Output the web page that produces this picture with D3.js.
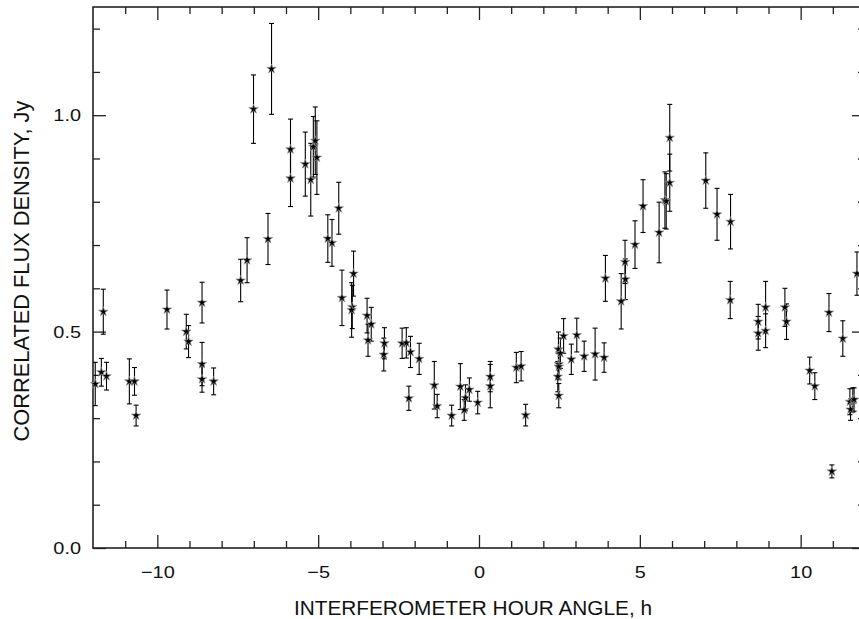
<!DOCTYPE html>
<html>
<head>
<meta charset="utf-8">
<script src="https://cdn.jsdelivr.net/npm/d3@7"></script>
<style>
  html, body { margin: 0; padding: 0; background: #fff; }
  svg { display: block; }
  text { font-family: "Liberation Sans", Arial, sans-serif; fill: #111; }
</style>
</head>
<body>
<svg id="chart" width="859" height="619"></svg>
<script>
// Hour angle (h)
const hourAngle = [
  -11.93, -11.74, -11.68, -11.58, -10.87, -10.71, -10.66, -9.70, -9.10, -9.03,
  -8.61, -8.61, -8.61, -8.25, -7.41, -7.21, -7.01, -6.56, -6.45, -5.86,
  -5.86, -5.40, -5.23, -5.15, -5.09, -5.04, -4.70, -4.57, -4.36, -4.26,
  -3.90, -3.94, -3.96, -3.48, -3.35, -3.45, -2.94, -2.96, -2.39, -2.26,
  -2.13, -2.18, -1.86, -1.39, -1.30, -0.85, -0.58, -0.46, -0.42, -0.30,
  -0.04, 0.35, 0.35, 1.16, 1.31, 1.45, 2.47, 2.53, 2.63, 2.48,
  2.48, 2.45, 2.48, 2.87, 3.04, 3.27, 3.61, 3.89, 3.93, 4.42,
  4.54, 4.55, 4.85, 5.10, 5.60, 5.78, 5.82, 5.93, 5.93, 7.05,
  7.40, 7.82, 7.81, 8.68, 8.68, 8.91, 8.91, 9.51, 9.56, 10.28,
  10.44, 10.88, 10.97, 11.31, 11.53, 11.55, 11.62, 11.66, 11.75
];
// Correlated flux density (Jy)
const fluxDensity = [
  0.379, 0.406, 0.546, 0.397, 0.385, 0.385, 0.306, 0.551, 0.500, 0.477,
  0.567, 0.425, 0.390, 0.385, 0.618, 0.665, 1.014, 0.714, 1.107, 0.921,
  0.854, 0.887, 0.851, 0.927, 0.941, 0.902, 0.715, 0.705, 0.785, 0.578,
  0.634, 0.557, 0.550, 0.537, 0.517, 0.480, 0.473, 0.447, 0.473, 0.474,
  0.453, 0.346, 0.437, 0.376, 0.328, 0.306, 0.373, 0.319, 0.347, 0.366,
  0.336, 0.396, 0.374, 0.417, 0.420, 0.307, 0.459, 0.450, 0.490, 0.425,
  0.419, 0.396, 0.352, 0.436, 0.492, 0.443, 0.448, 0.440, 0.623, 0.570,
  0.661, 0.621, 0.701, 0.790, 0.729, 0.804, 0.801, 0.948, 0.844, 0.849,
  0.771, 0.754, 0.573, 0.523, 0.496, 0.556, 0.502, 0.556, 0.523, 0.410,
  0.374, 0.544, 0.177, 0.484, 0.338, 0.320, 0.342, 0.343, 0.634
];
// 1-sigma errors (Jy)
const fluxError = [
  0.050, 0.032, 0.052, 0.032, 0.052, 0.032, 0.024, 0.045, 0.040, 0.037,
  0.047, 0.050, 0.030, 0.031, 0.049, 0.052, 0.079, 0.059, 0.105, 0.070,
  0.065, 0.074, 0.084, 0.070, 0.078, 0.085, 0.055, 0.054, 0.060, 0.064,
  0.052, 0.050, 0.063, 0.040, 0.039, 0.037, 0.036, 0.038, 0.035, 0.035,
  0.036, 0.028, 0.036, 0.055, 0.027, 0.024, 0.053, 0.024, 0.030, 0.027,
  0.026, 0.035, 0.050, 0.035, 0.034, 0.025, 0.040, 0.035, 0.040, 0.035,
  0.030, 0.035, 0.028, 0.035, 0.039, 0.035, 0.060, 0.034, 0.053, 0.064,
  0.050, 0.047, 0.055, 0.061, 0.070, 0.065, 0.064, 0.077, 0.066, 0.064,
  0.060, 0.063, 0.043, 0.040, 0.039, 0.060, 0.039, 0.044, 0.041, 0.031,
  0.031, 0.044, 0.015, 0.041, 0.030, 0.025, 0.028, 0.027, 0.050
];
const xMajorTicks = [-10, -5, 0, 5, 10];
const xMinorTicks = [-11, -9, -8, -7, -6, -4, -3, -2, -1, 1, 2, 3, 4, 6, 7, 8, 9, 11];
const yMajorTicks = [0.0, 0.5, 1.0];
const yMinorTicks = [0.1, 0.2, 0.3, 0.4, 0.6, 0.7, 0.8, 0.9, 1.1, 1.2];
const xDomain = [-12, 12];
const yDomain = [0, 1.25];
const xTitle = "INTERFEROMETER HOUR ANGLE, h";
const yTitle = "CORRELATED FLUX DENSITY, Jy";

const data = hourAngle.map((h, i) => ({ x: h, y: fluxDensity[i], e: fluxError[i] }));

const svg = d3.select("#chart");
const L = 93, R = 865, T = 7, B = 548;
const x = d3.scaleLinear(xDomain, [L, R]);
const y = d3.scaleLinear(yDomain, [B, T]);

const axisColor = "#222";
function styleAxis(g) {
  g.select(".domain").remove();
  g.selectAll(".tick line").attr("stroke", axisColor).attr("stroke-width", 1.3);
  g.selectAll(".tick text").style("font-family", '"Liberation Sans", Arial, sans-serif')
    .style("font-size", "17px").attr("fill", "#111")
    .each(function () {
      // the reference's tick digits are slightly wider than they are tall
      const w = this.getComputedTextLength();
      if (w > 0) d3.select(this).attr("textLength", w * 1.17).attr("lengthAdjust", "spacingAndGlyphs");
    });
}

// bottom axis (labels)
svg.append("g").attr("transform", `translate(0,${B})`)
  .call(d3.axisBottom(x).tickValues(xMajorTicks).tickSize(-13).tickPadding(18).tickFormat(d3.format("d")))
  .call(styleAxis);
svg.append("g").attr("transform", `translate(0,${B})`)
  .call(d3.axisBottom(x).tickValues(xMinorTicks).tickSize(-7).tickFormat(""))
  .call(styleAxis);
// top axis
svg.append("g").attr("transform", `translate(0,${T})`)
  .call(d3.axisTop(x).tickValues(xMajorTicks).tickSize(-13).tickFormat(""))
  .call(styleAxis);
svg.append("g").attr("transform", `translate(0,${T})`)
  .call(d3.axisTop(x).tickValues(xMinorTicks).tickSize(-7).tickFormat(""))
  .call(styleAxis);
// left axis
svg.append("g").attr("transform", `translate(${L},0)`)
  .call(d3.axisLeft(y).tickValues(yMajorTicks).tickSize(-13).tickPadding(12).tickFormat(d3.format(".1f")))
  .call(styleAxis);
svg.append("g").attr("transform", `translate(${L},0)`)
  .call(d3.axisLeft(y).tickValues(yMinorTicks).tickSize(-7).tickFormat(""))
  .call(styleAxis);
// right axis
svg.append("g").attr("transform", `translate(${R},0)`)
  .call(d3.axisRight(y).tickValues(yMajorTicks).tickSize(-13).tickFormat(""))
  .call(styleAxis);
svg.append("g").attr("transform", `translate(${R},0)`)
  .call(d3.axisRight(y).tickValues(yMinorTicks).tickSize(-7).tickFormat(""))
  .call(styleAxis);

// frame
svg.append("rect").attr("x", L).attr("y", T).attr("width", R - L).attr("height", B - T)
  .attr("fill", "none").attr("stroke", axisColor).attr("stroke-width", 1.6);

// error bars
const eb = svg.append("g").attr("stroke", "#000").attr("stroke-width", 1.1).attr("fill", "none");
const cap = 2.5;
data.forEach(d => {
  const xx = x(d.x), y1 = y(d.y + d.e), y0 = y(d.y - d.e);
  eb.append("line").attr("x1", xx).attr("x2", xx).attr("y1", y1).attr("y2", y0);
  eb.append("line").attr("x1", xx - cap).attr("x2", xx + cap).attr("y1", y1).attr("y2", y1);
  eb.append("line").attr("x1", xx - cap).attr("x2", xx + cap).attr("y1", y0).attr("y2", y0);
});

// star markers
const star = d3.symbol(d3.symbolStar, 28);
svg.append("g").selectAll("path").data(data).join("path")
  .attr("d", star)
  .attr("transform", d => `translate(${x(d.x)},${y(d.y)})`)
  .attr("fill", "#000").attr("stroke", "#9a9a9a").attr("stroke-width", 0.7);

// titles
svg.append("text").attr("x", 473).attr("y", 615).attr("text-anchor", "middle")
  .style("font-size", "20.8px").text(xTitle);
svg.append("text").attr("transform", "translate(28.5,271) rotate(-90)").attr("text-anchor", "middle")
  .style("font-size", "21.8px").text(yTitle);
</script>
</body>
</html>
